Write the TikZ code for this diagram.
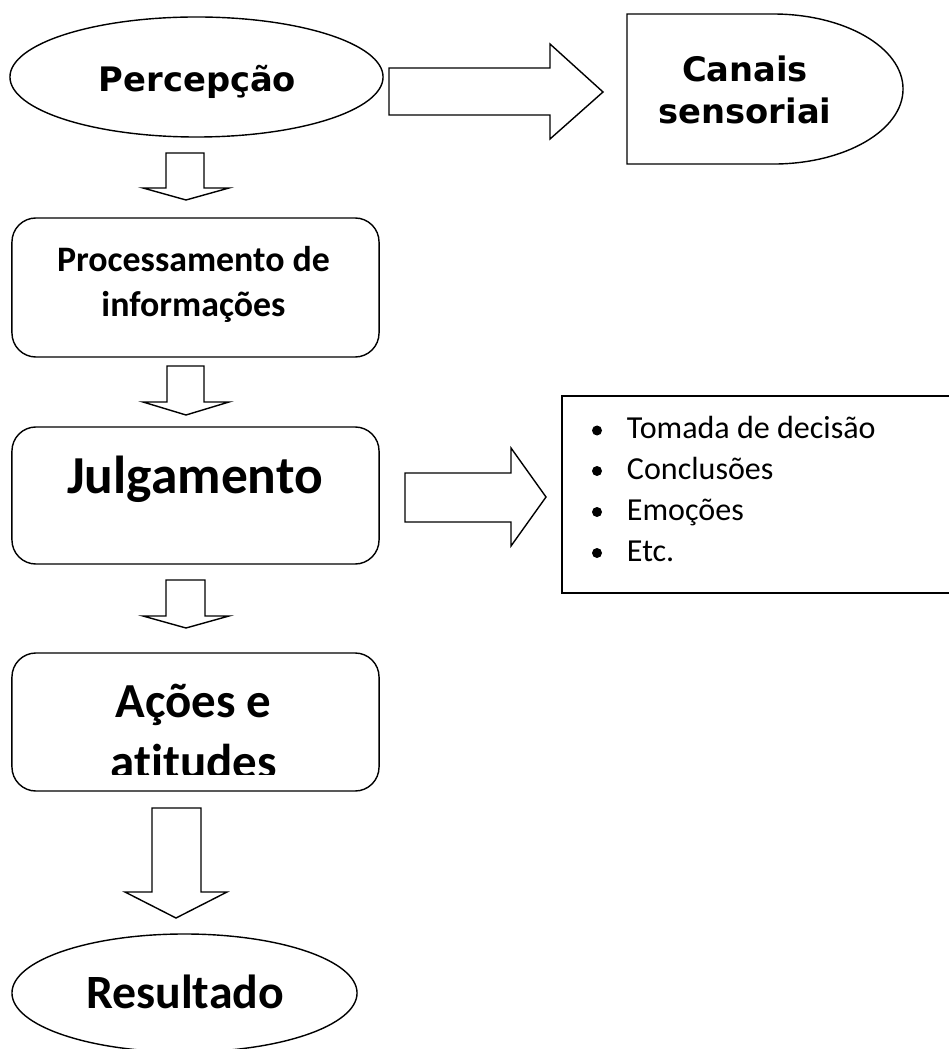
\documentclass[tikz,border=0pt]{standalone}
\usepackage{fontspec}
\setmainfont{Carlito}[Ligatures=NoCommon]
\newfontfamily\dejavu{DejaVu Sans}
\usetikzlibrary{shapes.geometric}

\tikzset{
  outline/.style={draw, line width=1pt},
  flowbox/.style={outline, rounded corners=0.6cm, minimum width=9.175cm, inner sep=0pt},
  oval/.style={outline, ellipse, inner sep=0pt},
  blockarrow/.style={outline, line join=miter, fill=white},
  bulletdot/.style={circle, fill, inner sep=0pt, minimum size=0.25cm},
  item/.style={anchor=base west, font=\fontsize{22.8}{27}\selectfont}
}

\begin{document}
\begin{tikzpicture}[x=0.025cm, y=-0.025cm]
  \useasboundingbox (0,0) rectangle (948,1049);

  % Perception
  \node[oval, minimum width=9.325cm, minimum height=3cm] (percepcao) at (196.5, 77) {};
  \node[anchor=base, font=\dejavu\bfseries\fontsize{24}{29}\selectfont] (percepcaotxt) at (197.5, 92) {Percepção};

  % Sensory channels
  \draw[outline] (627,14) -- (773,14) arc[start angle=90, end angle=-90, x radius=3.25cm, y radius=1.875cm]
     -- (627,164) -- cycle;
  \node[anchor=base, align=center, font=\dejavu\bfseries\fontsize{24}{29.9}\selectfont] (canais) at (745, 124) {Canais\\sensoriai};

  % Boxes
  \node[flowbox, minimum height=3.475cm] (proc) at (195.5, 287.5) {};
  \node[anchor=base, align=center, font=\fontsize{25.5}{32.7}\selectfont\bfseries] (proctxt) at (193.5, 317)
     {Processamento de\\informações};

  \node[flowbox, minimum height=3.425cm] (julg) at (195.5, 495.5) {};
  \node[anchor=base, font=\fontsize{38}{44}\selectfont\bfseries] (julgtxt) at (195, 493) {Julgamento};

  \node[flowbox, minimum height=3.45cm] (acoes) at (195.5, 722) {};
  \begin{scope}
    \clip (0,0) rectangle (948,774);
    \node[anchor=base, align=center, font=\fontsize{34.8}{42.7}\selectfont\bfseries] (acoestxt) at (193.5, 778)
       {Ações e\\atitudes};
  \end{scope}

  % Result
  \node[oval, minimum width=8.625cm, minimum height=2.95cm] (resultado) at (184.5, 993) {};
  \node[anchor=base, font=\fontsize{34}{40}\selectfont\bfseries] (resultadotxt) at (185, 1008) {Resultado};

  % Outcomes of judgement
  \draw[outline] (955,396) -- (562,396) -- (562,593) -- (955,593);
  \node[bulletdot] (b1) at (597, 430.5) {};
  \node[bulletdot] (b2) at (597, 471) {};
  \node[bulletdot] (b3) at (597, 512) {};
  \node[bulletdot] (b4) at (597, 553) {};
  \node[item] (i1) at (622, 438.5) {Tomada de decisão};
  \node[item] (i2) at (622, 479) {Conclusões};
  \node[item] (i3) at (622, 520) {Emoções};
  \node[item] (i4) at (622, 561) {Etc.};

  % Block arrows
  \draw[blockarrow] (389,68) -- (550,68) -- (550,44) -- (603,92) -- (550,139) -- (550,115) -- (389,115) -- cycle;
  \draw[blockarrow] (405,473) -- (511,473) -- (511,448) -- (546,497) -- (511,546) -- (511,522) -- (405,522) -- cycle;
  \draw[blockarrow] (166,153) -- (204,153) -- (204,188) -- (229,188) -- (186,200) -- (143,188) -- (166,188) -- cycle;
  \draw[blockarrow] (167,366) -- (204,366) -- (204,402) -- (229,402) -- (186,415) -- (143,402) -- (167,402) -- cycle;
  \draw[blockarrow] (166,580) -- (205,580) -- (205,616) -- (229,616) -- (186,628) -- (143,616) -- (166,616) -- cycle;
  \draw[blockarrow] (152,808) -- (201,808) -- (201,892) -- (227,892) -- (176,918) -- (125,892) -- (152,892) -- cycle;
\end{tikzpicture}
\end{document}
